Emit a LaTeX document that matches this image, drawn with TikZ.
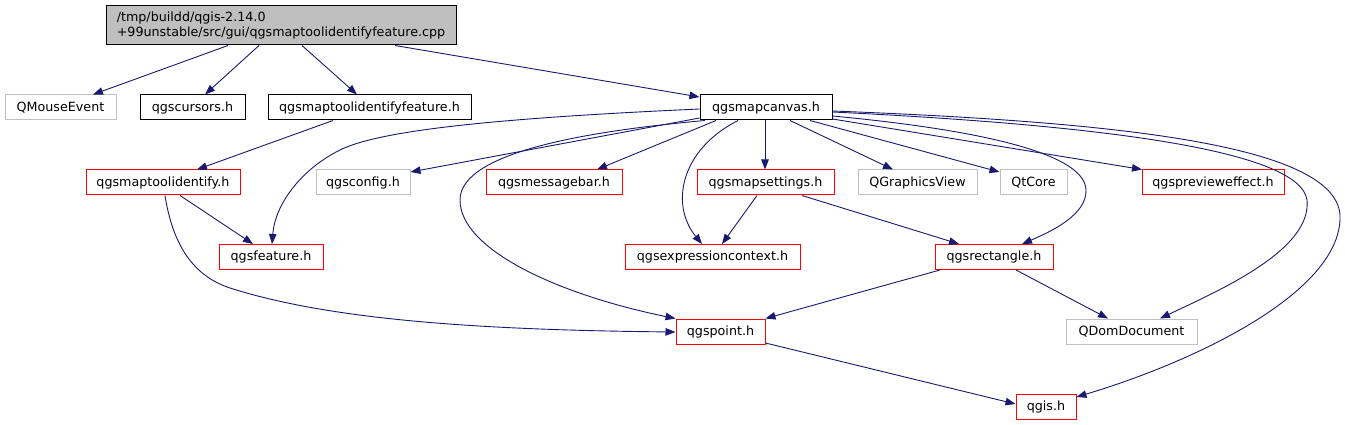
\documentclass[tikz,border=0pt]{standalone}
\usepackage{fontspec}
\setmainfont{DejaVu Sans}
\usetikzlibrary{arrows.meta}
\definecolor{edgeblue}{HTML}{191970}
\definecolor{nodegray}{HTML}{BFBFBF}
\definecolor{nodered}{HTML}{FF0000}
\tikzset{
  box/.style={draw, line width=1pt, inner sep=0pt, minimum height=25pt, font=\fontsize{12.7}{15}\selectfont, fill=white},
  blackbox/.style={box, draw=black},
  redbox/.style={box, draw=nodered},
  graybox/.style={box, draw=nodegray},
  edge/.style={draw=edgeblue, line width=0.9pt, -{Triangle[length=10pt,width=7.5pt]}, fill=none},
}
\begin{document}
\begin{tikzpicture}[x=1pt,y=-1pt]
\useasboundingbox (0,0) rectangle (1345,425);
% nodes
\node[blackbox, fill=nodegray, minimum width=350pt, minimum height=39pt, align=left] (root) at (281,25.5)
  {/tmp/buildd/qgis-2.14.0\\+99unstable/src/gui/qgsmaptoolidentifyfeature.cpp};
\node[graybox, minimum width=111pt] (qme) at (60.5,107.5) {QMouseEvent};
\node[blackbox, minimum width=105pt] (cursors) at (192.5,107.5) {qgscursors.h};
\node[blackbox, minimum width=203pt] (idfeat) at (369.5,107.5) {qgsmaptoolidentifyfeature.h};
\node[blackbox, minimum width=132pt] (canvas) at (766,107.5) {qgsmapcanvas.h};
\node[redbox, minimum width=154pt] (ident) at (163,182.5) {qgsmaptoolidentify.h};
\node[graybox, minimum width=94pt] (config) at (363,182.5) {qgsconfig.h};
\node[redbox, minimum width=136pt] (msgbar) at (554,182.5) {qgsmessagebar.h};
\node[redbox, minimum width=137pt] (mapset) at (765.5,182.5) {qgsmapsettings.h};
\node[graybox, minimum width=119pt] (qgv) at (917.5,182.5) {QGraphicsView};
\node[graybox, minimum width=67pt] (qtcore) at (1033.5,182.5) {QtCore};
\node[redbox, minimum width=142pt] (preview) at (1213,182.5) {qgspreview{}effect.h};
\node[redbox, minimum width=104pt] (feature) at (271,257) {qgsfeature.h};
\node[redbox, minimum width=175pt] (expr) at (712.5,257) {qgsexpressioncontext.h};
\node[redbox, minimum width=118pt] (rect) at (994,257) {qgsrectangle.h};
\node[redbox, minimum width=89pt] (point) at (720.5,331.5) {qgspoint.h};
\node[graybox, minimum width=131pt] (qdom) at (1131.5,331.5) {QDomDocument};
\node[redbox, minimum width=60pt] (qgis) at (1046,406.5) {qgis.h};
% edges from root
\draw[edge] (root.south -| 228,0) -- (qme.north -| 93,0);
\draw[edge] (root.south -| 259,0) -- (cursors.north -| 205,0);
\draw[edge] (root.south -| 302,0) -- (idfeat.north -| 357,0);
\draw[edge] (root.south -| 395,0) -- (canvas.west |- 0,97);
% identifyfeature
\draw[edge] (idfeat.south -| 333,0) -- (ident.north -| 197,0);
% identify
\draw[edge] (ident.south -| 180,0) -- (feature.north -| 253,0);
\draw[edge] (ident.south -| 165,0) .. controls (172,240) and (190,275) .. (230,288)
  .. controls (330,320) and (480,330) .. (point.west |- 0,332);
% canvas
\draw[edge] (canvas.west |- 0,109) .. controls (500,118) and (380,130) .. (340,150)
  .. controls (300,170) and (275,205) .. (feature.north -| 272,0);
\draw[edge] (canvas.west |- 0,118) -- (config.east |- 0,172);
\draw[edge] (canvas.south -| 705,0) .. controls (600,130) and (460,150) .. (460,200)
  .. controls (460,250) and (560,295) .. (point.north west);
\draw[edge] (canvas.south -| 716,0) -- (msgbar.north -| 597,0);
\draw[edge] (canvas.south -| 765,0) -- (mapset.north -| 765,0);
\draw[edge] (canvas.south -| 738,0) .. controls (680,150) and (670,205) .. (expr.north -| 702,0);
\draw[edge] (canvas.south -| 790,0) -- (qgv.north -| 893,0);
\draw[edge] (canvas.south -| 810,0) -- (qtcore.west |- 0,172);
\draw[edge] (canvas.east |- 0,119) -- (preview.north -| 1142,0);
\draw[edge] (canvas.east |- 0,116) .. controls (960,128) and (1085,150) .. (1086,190)
  .. controls (1087,215) and (1050,232) .. (rect.north -| 1022,0);
\draw[edge] (canvas.east |- 0,112) .. controls (1100,125) and (1300,150) .. (1307,200)
  .. controls (1312,250) and (1220,290) .. (qdom.north -| 1160,0);
\draw[edge] (canvas.east |- 0,111) .. controls (1120,122) and (1335,145) .. (1340,215)
  .. controls (1343,290) and (1200,360) .. (qgis.east |- 0,397);
% mapsettings
\draw[edge] (mapset.south -| 757,0) -- (expr.north -| 722,0);
\draw[edge] (mapset.south -| 802,0) -- (rect.north -| 959,0);
% rectangle
\draw[edge] (rect.south -| 940,0) -- (point.north east);
\draw[edge] (rect.south -| 1016,0) -- (qdom.north -| 1108,0);
% point
\draw[edge] (point.east |- 0,343) -- (qgis.west |- 0,404);
\end{tikzpicture}
\end{document}
